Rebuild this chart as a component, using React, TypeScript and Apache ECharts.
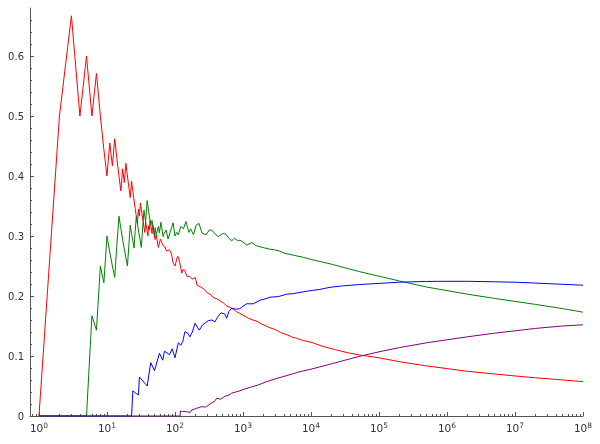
import React, { useEffect, useRef } from "react";
import * as echarts from "echarts";

const redPoints: number[][] = [
  [1, 0], [2, 0.5], [3, 0.667], [4, 0.5], [5, 0.6], [6, 0.5], [7, 0.571], [8, 0.5], [9, 0.444], [10, 0.4],
  [11, 0.455], [12, 0.417], [13, 0.462], [14, 0.429], [15, 0.4], [16, 0.375], [17, 0.412], [18, 0.389],
  [19, 0.421], [20, 0.4], [21, 0.381], [22, 0.364], [23, 0.391], [24, 0.375], [25, 0.36], [26, 0.346],
  [27, 0.333], [28, 0.321], [29, 0.345], [30, 0.333], [31, 0.355], [32, 0.344], [34, 0.324], [36, 0.306],
  [37, 0.324], [40, 0.3], [41, 0.317], [42, 0.31], [43, 0.326], [46, 0.304], [47, 0.319], [51, 0.294],
  [53, 0.302], [57, 0.281], [61, 0.295], [67, 0.284], [71, 0.282], [75, 0.275], [83, 0.277], [89, 0.27],
  [94, 0.255], [100, 0.25], [109, 0.266], [113, 0.265], [126, 0.238], [131, 0.244], [139, 0.243],
  [150, 0.233], [168, 0.232], [180, 0.228], [199, 0.231], [211, 0.218], [240, 0.215], [270, 0.211],
  [300, 0.205], [330, 0.203], [370, 0.197], [420, 0.195], [460, 0.192], [520, 0.188], [580, 0.183],
  [650, 0.181], [720, 0.178], [800, 0.174], [900, 0.171], [1000, 0.168], [1200, 0.163], [1400, 0.16],
  [1600, 0.158], [1900, 0.153], [2200, 0.15], [2500, 0.147], [3000, 0.144], [3600, 0.139], [4300, 0.136],
  [5200, 0.132], [6300, 0.129], [7600, 0.126], [10000, 0.123], [15000, 0.116], [22000, 0.111],
  [33000, 0.106], [50000, 0.102], [100000, 0.097], [200000, 0.0905], [500000, 0.0835], [1000000, 0.079],
  [2000000, 0.0745], [5000000, 0.07], [10000000, 0.0667], [20000000, 0.0637], [50000000, 0.0601],
  [100000000, 0.0573],
];

const greenPoints: number[][] = [
  [1, 0], [5, 0], [6, 0.167], [7, 0.143], [8, 0.25], [9, 0.222], [10, 0.3], [11, 0.273], [12, 0.25],
  [13, 0.231], [14, 0.286], [15, 0.333], [16, 0.3125], [17, 0.294], [18, 0.278], [19, 0.263], [20, 0.25],
  [21, 0.286], [22, 0.318], [23, 0.304], [24, 0.292], [25, 0.28], [26, 0.308], [27, 0.333], [28, 0.321],
  [29, 0.31], [30, 0.3], [31, 0.29], [32, 0.281], [33, 0.303], [34, 0.324], [35, 0.343], [36, 0.333],
  [37, 0.324], [38, 0.342], [39, 0.359], [40, 0.35], [41, 0.341], [42, 0.333], [43, 0.326], [44, 0.318],
  [46, 0.326], [47, 0.319], [50, 0.3], [51, 0.314], [53, 0.302], [55, 0.309], [57, 0.316], [59, 0.305],
  [62, 0.323], [67, 0.299], [69, 0.304], [74, 0.31], [79, 0.295], [87, 0.31], [94, 0.322], [100, 0.3],
  [106, 0.306], [112, 0.302], [122, 0.316], [133, 0.312], [145, 0.324], [160, 0.306], [170, 0.312],
  [187, 0.302], [205, 0.318], [225, 0.321], [250, 0.305], [286, 0.302], [320, 0.31], [347, 0.31],
  [400, 0.302], [435, 0.299], [500, 0.304], [562, 0.303], [620, 0.296], [682, 0.292], [750, 0.296],
  [850, 0.292], [903, 0.293], [1000, 0.29], [1133, 0.285], [1360, 0.289], [1550, 0.284], [1780, 0.282],
  [2100, 0.28], [2495, 0.278], [2900, 0.277], [3305, 0.2755], [4150, 0.271], [5500, 0.268], [7700, 0.2645],
  [10000, 0.261], [20000, 0.253], [50000, 0.241], [100000, 0.233], [200000, 0.225], [500000, 0.215],
  [1000000, 0.209], [2000000, 0.203], [5000000, 0.196], [10000000, 0.191], [20000000, 0.186],
  [50000000, 0.179], [100000000, 0.173],
];

const bluePoints: number[][] = [
  [1, 0], [23, 0], [24, 0.042], [28, 0.036], [29, 0.035], [30, 0.065], [39, 0.05], [44, 0.089],
  [50, 0.0755], [59, 0.1045], [66, 0.093], [70, 0.108], [76, 0.1055], [83, 0.102], [91, 0.112],
  [100, 0.097], [112, 0.122], [122, 0.118], [130, 0.124], [140, 0.1405], [154, 0.138], [166, 0.132],
  [180, 0.14], [197, 0.1545], [228, 0.143], [255, 0.152], [280, 0.155], [309, 0.159], [350, 0.16],
  [387, 0.157], [430, 0.166], [475, 0.172], [540, 0.17], [575, 0.163], [620, 0.174], [682, 0.1795],
  [808, 0.178], [903, 0.179], [1000, 0.183], [1133, 0.187], [1415, 0.187], [1778, 0.193], [2100, 0.195],
  [2495, 0.198], [3305, 0.199], [4395, 0.203], [5500, 0.204], [7700, 0.207], [10000, 0.209],
  [13500, 0.211], [19000, 0.2145], [30000, 0.217], [50000, 0.219], [100000, 0.221], [200000, 0.223],
  [500000, 0.2243], [1000000, 0.2245], [2000000, 0.2245], [5000000, 0.2237], [10000000, 0.223],
  [20000000, 0.2215], [50000000, 0.2195], [100000000, 0.218],
];

const purplePoints: number[][] = [
  [1, 0], [119, 0], [120, 0.0083], [130, 0.0077], [150, 0.007], [168, 0.006], [176, 0.01], [209, 0.0128],
  [246, 0.0155], [280, 0.015], [300, 0.017], [347, 0.022], [380, 0.024], [410, 0.0295], [470, 0.028],
  [543, 0.033], [600, 0.034], [682, 0.038], [808, 0.0405], [903, 0.042], [1000, 0.044], [1300, 0.048],
  [1700, 0.052], [2200, 0.057], [3000, 0.062], [4000, 0.066], [5300, 0.07], [6890, 0.074], [10000, 0.078],
  [20000, 0.087], [50000, 0.099], [100000, 0.107], [200000, 0.114], [500000, 0.122], [1000000, 0.127],
  [2000000, 0.132], [5000000, 0.138], [10000000, 0.142], [20000000, 0.146], [50000000, 0.15],
  [100000000, 0.152],
];

const xMajorTicks: number[] = [1, 10, 100, 1e3, 1e4, 1e5, 1e6, 1e7, 1e8];
const xMinorMultipliers: number[] = [2, 3, 4, 5, 6, 7, 8, 9];
const yMajorTicks: number[] = [0, 0.1, 0.2, 0.3, 0.4, 0.5, 0.6];
const yMinorTicks: number[] = [
  0.02, 0.04, 0.06, 0.08, 0.12, 0.14, 0.16, 0.18, 0.22, 0.24, 0.26, 0.28, 0.32, 0.34, 0.36, 0.38,
  0.42, 0.44, 0.46, 0.48, 0.52, 0.54, 0.56, 0.58, 0.62, 0.64, 0.66,
];

const X_MIN = Math.pow(10, -0.132);
const X_MAX = 1e8;
const Y_MAX = 0.68;

export default function App() {
  const ref = useRef<HTMLDivElement>(null);
  useEffect(() => {
    if (!ref.current) return;
    const chart = echarts.init(ref.current, null, { renderer: "svg" });
    const xMinor: number[] = [0.8, 0.9];
    for (const m of xMajorTicks.slice(0, 8)) for (const k of xMinorMultipliers) xMinor.push(m * k);
    const axisColor = "#555";
    const textColor = "#333";
    const font = "DejaVu Sans";
    chart.setOption({
      animation: false,
      grid: { left: 30, right: 17, top: 8, bottom: 28, containLabel: false },
      xAxis: [
        {
          type: "log",
          position: "bottom",
          min: X_MIN,
          max: X_MAX,
          logBase: 10,
          axisLine: { show: true, lineStyle: { color: axisColor, width: 1 } },
          axisTick: { show: true, inside: true, length: 4, customValues: xMajorTicks, lineStyle: { color: axisColor } },
          axisLabel: {
            show: true,
            customValues: xMajorTicks,
            margin: 5,
            formatter: (v: number) => `{b|10}{e|${Math.round(Math.log10(v))}}`,
            rich: {
              b: { fontSize: 10.5, fontFamily: font, color: textColor, lineHeight: 13 },
              e: { fontSize: 7.5, fontFamily: font, color: textColor, verticalAlign: "top", lineHeight: 9 },
            },
          },
          splitLine: { show: false },
          minorTick: { show: false },
        },
        {
          type: "log",
          position: "bottom",
          min: X_MIN,
          max: X_MAX,
          logBase: 10,
          axisLine: { show: false },
          axisTick: { show: true, inside: true, length: 2, customValues: xMinor, lineStyle: { color: axisColor } },
          axisLabel: { show: false },
          splitLine: { show: false },
        },
      ],
      yAxis: [
        {
          type: "value",
          position: "left",
          min: 0,
          max: Y_MAX,
          axisLine: { show: true, lineStyle: { color: axisColor, width: 1 } },
          axisTick: { show: true, inside: true, length: 4, customValues: yMajorTicks, lineStyle: { color: axisColor } },
          axisLabel: {
            show: true,
            customValues: yMajorTicks,
            margin: 6,
            fontSize: 10,
            fontFamily: font,
            color: textColor,
            formatter: (v: number) => (v === 0 ? "0" : v.toFixed(1)),
          },
          splitLine: { show: false },
        },
        {
          type: "value",
          position: "left",
          min: 0,
          max: Y_MAX,
          axisLine: { show: false },
          axisTick: { show: true, inside: true, length: 2, customValues: yMinorTicks, lineStyle: { color: axisColor } },
          axisLabel: { show: false },
          splitLine: { show: false },
        },
      ],
      series: [
        { name: "red", data: redPoints, color: "#ff0000" },
        { name: "green", data: greenPoints, color: "#008000" },
        { name: "blue", data: bluePoints, color: "#0000ff" },
        { name: "purple", data: purplePoints, color: "#800080" },
      ].map((s, i) => ({
        type: "line",
        name: s.name,
        data: s.data,
        xAxisIndex: 0,
        yAxisIndex: 0,
        showSymbol: false,
        symbol: "none",
        z: 2 + i,
        lineStyle: { color: s.color, width: 1 },
        itemStyle: { color: s.color },
      })),
    });
    return () => chart.dispose();
  }, []);
  return <div ref={ref} style={{ position: "fixed", left: 0, top: 0, width: 600, height: 444 }} />;
}
